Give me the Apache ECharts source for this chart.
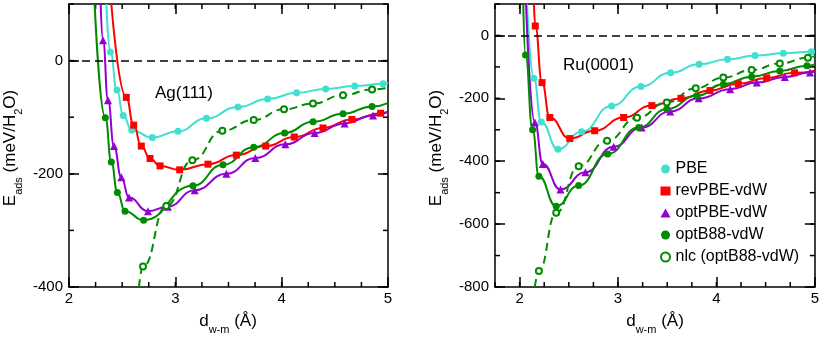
<!DOCTYPE html>
<html>
<head>
    <meta charset="UTF-8">
    <title>Eads vs d</title>
    <script src="https://cdn.jsdelivr.net/npm/echarts@6.0.0/dist/echarts.min.js"></script>
</head>
<body style="margin:0;background:#fff;">
<div id="main" style="width:822px;height:339px;"></div>
<pre id="err" style="position:absolute;left:80px;top:120px;margin:0;font:9px monospace;color:#c00;white-space:pre-wrap;width:300px;"></pre>
<script type="text/javascript">
    window.onerror = function (msg, src, line, col, e) {
        document.getElementById('err').textContent += 'onerror: ' + msg + ' ' + line + ':' + col + '\n' + (e && e.stack ? e.stack.split('\n').slice(0, 4).join('\n') : '') + '\n';
    };

    // series names (legend)
    var seriesNames = ['PBE', 'revPBE-vdW', 'optPBE-vdW', 'optB88-vdW', 'nlc (optB88-vdW)'];

    // tick labels
    var agXTicks = [2, 3, 4, 5];
    var agYTicks = [-400, -200, 0];
    var ruXTicks = [2, 3, 4, 5];
    var ruYTicks = [-800, -600, -400, -200, 0];

    // Ag(111): markers [d, E]
    var agPBE = [[2.389, 15], [2.451, -52], [2.51, -97], [2.59, -123], [2.784, -136], [3.025, -125], [3.292, -102],
        [3.589, -82], [3.868, -68], [4.141, -57], [4.414, -50], [4.687, -45], [4.953, -41]];
    var agRevPBE = [[2.539, -65], [2.608, -114], [2.68, -151], [2.762, -173], [2.856, -186], [3.041, -193], [3.307, -183],
        [3.574, -167], [3.85, -151], [4.119, -135], [4.389, -119], [4.661, -104], [4.931, -93]];
    var agOptPBE = [[2.32, 36], [2.367, -70], [2.423, -151], [2.492, -206], [2.564, -242], [2.743, -266], [2.93, -258],
        [3.182, -229], [3.48, -200], [3.752, -172], [4.034, -148], [4.31, -128], [4.592, -111], [4.859, -97]];
    var agOptB88 = [[2.342, -101], [2.398, -179], [2.455, -233], [2.527, -266], [2.702, -282], [3.166, -221],
        [3.448, -184], [3.737, -153], [4.028, -128], [4.295, -108], [4.577, -94], [4.85, -81]];
    var agNlc = [[2.696, -364], [2.915, -257], [3.16, -176], [3.442, -124], [3.737, -105], [4.022, -86], [4.295, -76],
        [4.577, -61], [4.85, -51]];
    // where each curve enters / leaves the frame (no marker)
    var agPBEEnds = [[2.351, 100], [5, -40]];
    var agRevPBEEnds = [[2.398, 100], [5, -90]];
    var agOptPBEEnds = [[2.298, 100], [5, -90]];
    var agOptB88Ends = [[2.241, 100], [5, -75]];
    var agNlcEnds = [[2.658, -400], [5, -48]];

    // Ru(0001)
    var ruPBE = [[2.145, -136], [2.22, -275], [2.39, -362], [2.63, -306], [2.935, -224], [3.233, -162], [3.535, -119],
        [3.824, -92], [4.113, -76], [4.393, -64], [4.68, -57], [4.966, -52]];
    var ruRevPBE = [[2.159, 30], [2.228, -150], [2.307, -261], [2.51, -328], [2.763, -303], [3.057, -261], [3.344, -223],
        [3.64, -200], [3.935, -175], [4.222, -154], [4.51, -135], [4.794, -119]];
    var ruOptPBE = [[2.155, -277], [2.236, -409], [2.415, -490], [2.669, -435], [2.955, -354], [3.24, -293],
        [3.53, -242], [3.82, -200], [4.14, -171], [4.41, -150], [4.695, -132], [4.95, -118]];
    var ruOptB88 = [[2.06, -62], [2.132, -300], [2.196, -448], [2.372, -543], [2.6, -477], [2.895, -377], [3.21, -293],
        [3.496, -234], [3.8, -192], [4.07, -155], [4.358, -131], [4.644, -113], [4.92, -96]];
    var ruNlc = [[2.196, -749], [2.372, -564], [2.6, -416], [2.889, -335], [3.193, -262], [3.496, -213], [3.79, -168],
        [4.07, -134], [4.358, -110], [4.644, -89], [4.93, -71]];
    var ruPBEEnds = [[2.075, 100], [5, -51]];
    var ruRevPBEEnds = [[2.146, 100], [5, -112]];
    var ruOptPBEEnds = [[2.065, 100], [5, -114]];
    var ruOptB88Ends = [[2.037, 100], [5, -92]];
    var ruNlcEnds = [[2.155, -800], [5, -66]];

    var colors = ['#40e0d0', '#ff0000', '#9400d3', '#008b00', '#008b00'];
    var symbols = ['circle', 'rect', 'triangle', 'circle', 'emptyCircle'];
    var symbolSizes = [7, 7, 8, 7, 6];

    var font = 'Liberation Sans, Arial, Helvetica, sans-serif';
    var xName = '{a|d}{s|w-m}{a| (\u00c5)}';
    var yName = '{a|E}{s|ads}{a| (meV/H}{s|2}{a|O)}';
    var nameRich = {
        a: {fontSize: 17, fontFamily: font, fill: '#000', color: '#000', lineHeight: 22, verticalAlign: 'top'},
        s: {fontSize: 11, fontFamily: font, fill: '#000', color: '#000', lineHeight: 22, verticalAlign: 'bottom'}
    };

    function curve(marks, ends) {
        var d = [{value: ends[0], symbol: 'none'}];
        marks.forEach(function (p) { d.push(p); });
        d.push({value: ends[1], symbol: 'none'});
        return d;
    }

    var xAxes = [], yAxes = [];

    // frame: bottom/left axes carry labels and long ticks, top/right mirror them
    function addAxes(grid, xmin, xmax, ymin, ymax, xTicks, yTicks) {
        var line = {show: true, onZero: false, lineStyle: {color: '#000', width: 1.5}};
        var majT = {show: true, inside: true, length: 10, lineStyle: {color: '#000', width: 1.5}};
        var base = {type: 'value', gridIndex: grid, splitLine: {show: false}};
        xAxes.push(Object.assign({}, base, {
            min: xmin, max: xmax, position: 'bottom', axisLine: line,
            axisTick: Object.assign({customValues: xTicks}, majT),
            axisLabel: {customValues: xTicks, color: '#000', fontSize: 15, fontFamily: font, margin: 4}
        }));
        xAxes.push(Object.assign({}, base, {
            min: xmin, max: xmax, position: 'top', axisLine: line,
            axisTick: Object.assign({customValues: xTicks}, majT), axisLabel: {show: false}
        }));
        yAxes.push(Object.assign({}, base, {
            min: ymin, max: ymax, position: 'left', axisLine: line,
            axisTick: Object.assign({customValues: yTicks}, majT),
            axisLabel: {customValues: yTicks, color: '#000', fontSize: 15, fontFamily: font, margin: 6}
        }));
        yAxes.push(Object.assign({}, base, {
            min: ymin, max: ymax, position: 'right', axisLine: line,
            axisTick: Object.assign({customValues: yTicks}, majT), axisLabel: {show: false}
        }));
    }

    addAxes(0, 2, 5, -400, 100, agXTicks, agYTicks);
    addAxes(1, 1.75, 5, -800, 100, ruXTicks, ruYTicks);

    // short inward ticks on all four sides: [value, isY]
    function tickList(xmin, xmax, ymin, ymax) {
        var t = [], v;
        for (v = xmin; v <= xmax + 1e-9; v += 0.25) t.push([v, 0]);
        for (v = ymin; v <= ymax + 1e-9; v += 100) t.push([v, 1]);
        return t;
    }

    function tickSeries(g, xmin, xmax, ymin, ymax) {
        return {
            type: 'custom', xAxisIndex: g * 2, yAxisIndex: g * 2, silent: true, clip: false,
            dimensions: ['v', 'isY'], encode: {x: -1, y: -1},
            data: tickList(xmin, xmax, ymin, ymax),
            renderItem: function (params, api) {
                var v = api.value(0), isY = api.value(1);
                var st = {stroke: '#000', lineWidth: 1.5};
                var a, b, l1, l2, len = 5;
                if (isY) {
                    a = api.coord([xmin, v]);
                    b = api.coord([xmax, v]);
                    l1 = {x1: a[0], y1: a[1], x2: a[0] + len, y2: a[1]};
                    l2 = {x1: b[0], y1: b[1], x2: b[0] - len, y2: b[1]};
                } else {
                    a = api.coord([v, ymin]);
                    b = api.coord([v, ymax]);
                    l1 = {x1: a[0], y1: a[1], x2: a[0], y2: a[1] - len};
                    l2 = {x1: b[0], y1: b[1], x2: b[0], y2: b[1] + len};
                }
                return {
                    type: 'group', children: [
                        {type: 'line', shape: l1, style: st},
                        {type: 'line', shape: l2, style: st}
                    ]
                };
            }
        };
    }

    var agData = [curve(agPBE, agPBEEnds), curve(agRevPBE, agRevPBEEnds), curve(agOptPBE, agOptPBEEnds),
        curve(agOptB88, agOptB88Ends), curve(agNlc, agNlcEnds)];
    var ruData = [curve(ruPBE, ruPBEEnds), curve(ruRevPBE, ruRevPBEEnds), curve(ruOptPBE, ruOptPBEEnds),
        curve(ruOptB88, ruOptB88Ends), curve(ruNlc, ruNlcEnds)];

    var series = [];
    [agData, ruData].forEach(function (set, g) {
        set.forEach(function (d, i) {
            var s = {
                name: seriesNames[i], type: 'line', xAxisIndex: g * 2, yAxisIndex: g * 2,
                data: d, smooth: 0.5, smoothMonotone: 'x', clip: true,
                symbol: symbols[i], symbolSize: symbolSizes[i], showAllSymbol: true,
                color: colors[i],
                itemStyle: {color: colors[i], borderColor: colors[i], borderWidth: i === 4 ? 1.5 : 0},
                lineStyle: {color: colors[i], width: 2, type: i === 4 ? [8, 5] : 'solid'}
            };
            if (i === 0) {
                // dashed zero line
                s.markLine = {
                    silent: true, symbol: 'none', label: {show: false},
                    lineStyle: {color: '#000', width: 1.5, type: [8, 5]},
                    data: [{yAxis: 0}]
                };
            }
            series.push(s);
        });
    });
    series.push(tickSeries(0, 2, 5, -400, 100));
    series.push(tickSeries(1, 1.75, 5, -800, 100));

    // axis titles as graphic text
    function nameText(x, y, rot, text) {
        return {
            type: 'text', x: x, y: y, rotation: rot, silent: true,
            style: {text: text, rich: nameRich, fill: '#000', font: '17px ' + font, align: 'center', verticalAlign: 'top'}
        };
    }

    var myChart = echarts.init(document.getElementById('main'), null, {renderer: 'canvas'});
    var option = {
        animation: false,
        title: [
            {text: 'Ag(111)', left: 150, top: 80, textStyle: {fontSize: 17, fontWeight: 'normal', color: '#000', fontFamily: font}},
            {text: 'Ru(0001)', left: 558, top: 52, textStyle: {fontSize: 17, fontWeight: 'normal', color: '#000', fontFamily: font}}
        ],
        legend: {
            orient: 'vertical', left: 655, top: 156, itemWidth: 10, itemHeight: 9, itemGap: 6,
            textStyle: {fontSize: 16, color: '#000', fontFamily: font, lineHeight: 16},
            data: [
                {name: seriesNames[0], icon: 'circle'},
                {name: seriesNames[1], icon: 'rect'},
                {name: seriesNames[2], icon: 'triangle'},
                {name: seriesNames[3], icon: 'circle'},
                {name: seriesNames[4], icon: 'emptyCircle'}
            ]
        },
        grid: [
            {left: 69, top: 4, width: 319, height: 283},
            {left: 495, top: 4, width: 320, height: 283}
        ],
        graphic: [
            nameText(228, 313, 0, xName),
            nameText(655, 313, 0, xName),
            nameText(2, 148, Math.PI / 2, yName),
            nameText(428, 148, Math.PI / 2, yName)
        ],
        xAxis: xAxes,
        yAxis: yAxes,
        series: series
    };
    try {
        myChart.setOption(option);
    } catch (e) {
        document.getElementById('err').textContent += 'caught: ' + e.message + '\n' + (e.stack || '').split('\n').slice(0, 5).join('\n');
    }
</script>
</body>
</html>
